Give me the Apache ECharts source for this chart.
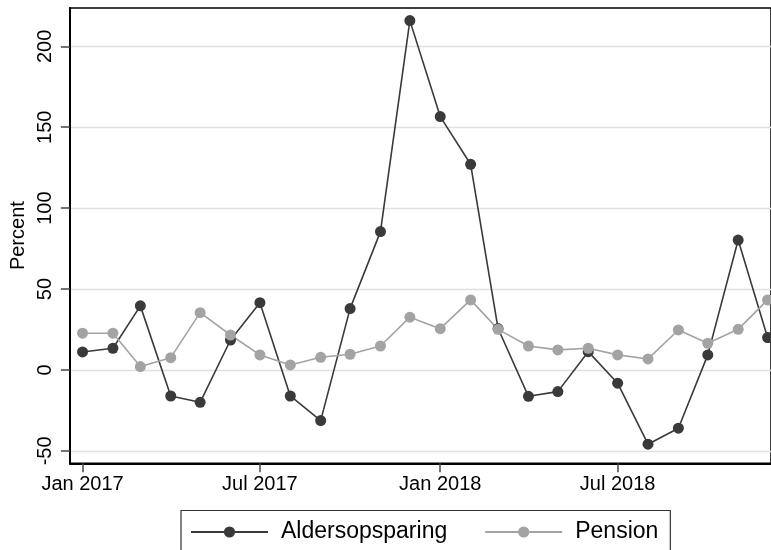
<!DOCTYPE html>
<html>
<head>
<meta charset="utf-8">
<script src="https://cdn.jsdelivr.net/npm/echarts@6/dist/echarts.min.js"></script>
<style>
html,body{margin:0;padding:0;background:#fff;}
#chart{width:771px;height:550px;}
</style>
</head>
<body>
<div id="chart"></div>
<script>
// Months (x categories)
const months = ['2017-01','2017-02','2017-03','2017-04','2017-05','2017-06',
                '2017-07','2017-08','2017-09','2017-10','2017-11','2017-12',
                '2018-01','2018-02','2018-03','2018-04','2018-05','2018-06',
                '2018-07','2018-08','2018-09','2018-10','2018-11','2018-12'];
// Series values (percent)
const aldersopsparing = [11.1, 13.4, 39.6, -16.1, -20.0, 18.5, 41.6, -16.1, -31.3, 37.9, 85.5, 215.9,
                         156.6, 127.1, 25.6, -16.3, -13.4, 11.3, -8.2, -45.9, -36.0, 9.3, 80.3, 20.0];
const pension = [22.7, 22.7, 2.1, 7.6, 35.4, 21.6, 9.3, 3.1, 7.8, 9.7, 14.8, 32.6,
                 25.5, 43.3, 25.1, 14.8, 12.4, 13.4, 9.3, 6.8, 24.7, 16.5, 25.1, 43.3];
// Tick labels
const xTickMonths = ['2017-01','2017-07','2018-01','2018-07'];
const xTickLabels = ['Jan 2017','Jul 2017','Jan 2018','Jul 2018'];
const yTicks = [-50, 0, 50, 100, 150, 200];
const seriesNames = ['Aldersopsparing', 'Pension'];
const yTitle = 'Percent';

// x position measured in days since 2017-01-01 (dates are converted, not typed)
const DAY = 86400000;
const BASE = Date.UTC(2017, 0, 1);
function toDay(m) {
  const p = m.split('-');
  return (Date.UTC(+p[0], +p[1] - 1, 1) - BASE) / DAY;
}
const xMin = -12.9;
const xMax = xMin + 715.4;
const xTickDays = xTickMonths.map(toDay);

const font = '"Liberation Sans", Arial, Helvetica, sans-serif';
const chart = echarts.init(document.getElementById('chart'), null, {renderer: 'canvas'});
chart.setOption({
  backgroundColor: '#ffffff',
  animation: false,
  grid: {
    left: 69, right: -2, top: 8, bottom: 86.7,
    show: true, borderColor: '#000', borderWidth: 1.5, backgroundColor: 'transparent'
  },
  legend: {
    data: seriesNames,
    left: 181, top: 510.5,
    orient: 'horizontal',
    itemWidth: 77, itemHeight: 14, itemGap: 37,
    padding: [10, 12, 12, 9],
    borderColor: '#333', borderWidth: 1.2,
    textStyle: {fontFamily: font, fontSize: 23, color: '#000', padding: [0, 0, 0, 8]}
  },
  xAxis: {
    type: 'value',
    min: xMin, max: xMax,
    axisLine: {show: true, onZero: false, lineStyle: {color: '#000', width: 2}},
    axisTick: {show: true, length: 9, customValues: xTickDays, lineStyle: {color: '#444', width: 1.5}},
    axisLabel: {
      customValues: xTickDays,
      margin: 11,
      fontFamily: font, fontSize: 20, color: '#000',
      formatter: function (v) {
        const i = xTickDays.indexOf(v);
        return i >= 0 ? xTickLabels[i] : '';
      }
    },
    splitLine: {show: false}
  },
  yAxis: {
    type: 'value',
    min: -57.7, max: 223.7,
    name: yTitle,
    nameLocation: 'middle',
    nameRotate: 90,
    nameGap: 33,
    nameTextStyle: {fontFamily: font, fontSize: 20, color: '#000'},
    axisLine: {show: true, onZero: false, lineStyle: {color: '#000', width: 2}},
    axisTick: {show: true, length: 9, customValues: yTicks, lineStyle: {color: '#444', width: 1.5}},
    axisLabel: {
      customValues: yTicks,
      rotate: 90,
      margin: 14,
      fontFamily: font, fontSize: 20, color: '#000'
    },
    splitLine: {show: true, lineStyle: {color: '#e0e0e0', width: 1.3}}
  },
  series: [
    {
      name: seriesNames[0],
      type: 'line',
      data: months.map((m, i) => [toDay(m), aldersopsparing[i]]),
      symbol: 'circle', symbolSize: 11,
      lineStyle: {color: '#3a3a3a', width: 1.6},
      itemStyle: {color: '#3a3a3a'},
      clip: true
    },
    {
      name: seriesNames[1],
      type: 'line',
      data: months.map((m, i) => [toDay(m), pension[i]]),
      symbol: 'circle', symbolSize: 11,
      lineStyle: {color: '#a3a3a3', width: 1.6},
      itemStyle: {color: '#a3a3a3'},
      clip: true
    }
  ]
});
</script>
</body>
</html>
